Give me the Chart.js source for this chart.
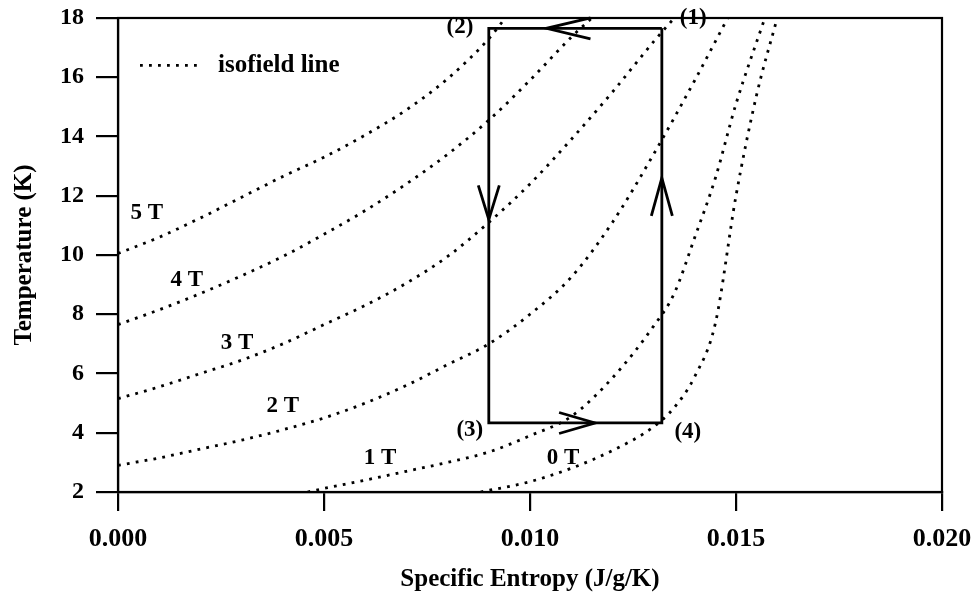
<!DOCTYPE html>
<html><head><meta charset="utf-8">
<script src="https://cdn.jsdelivr.net/npm/chart.js@4/dist/chart.umd.min.js"></script>
<style>html,body{margin:0;padding:0;background:#fff}</style>
</head><body>
<canvas id="c" width="980" height="601"></canvas>
<script>
// Isofield lines: specific entropy (J/g/K) vs temperature (K)
const s5T = [0, 0.001, 0.002, 0.003, 0.004, 0.005, 0.006, 0.007, 0.008, 0.009, 0.0094];
const t5T = [10.05, 10.6, 11.25, 11.95, 12.65, 13.3, 14.05, 14.9, 15.95, 17.3, 18.0];
const s4T = [0, 0.001, 0.002, 0.003, 0.004, 0.005, 0.006, 0.007, 0.008, 0.009, 0.010, 0.011, 0.0115];
const t4T = [7.65, 8.15, 8.7, 9.3, 9.95, 10.7, 11.5, 12.4, 13.4, 14.55, 15.9, 17.35, 18.0];
const s3T = [0, 0.001, 0.002, 0.003, 0.004, 0.005, 0.006, 0.007, 0.008, 0.009, 0.010, 0.011, 0.012, 0.013, 0.0135];
const t3T = [5.15, 5.55, 6.0, 6.45, 7.0, 7.65, 8.3, 9.05, 9.95, 11.1, 12.4, 13.9, 15.5, 17.2, 18.0];
const s2T = [0, 0.001, 0.002, 0.003, 0.004, 0.005, 0.006, 0.007, 0.008, 0.009, 0.010, 0.011, 0.012, 0.013, 0.014, 0.0148];
const t2T = [2.9, 3.15, 3.45, 3.75, 4.1, 4.5, 5.0, 5.6, 6.3, 7.0, 8.0, 9.25, 11.1, 13.4, 15.9, 18.0];
const s1T = [0.0046, 0.005, 0.006, 0.007, 0.008, 0.009, 0.010, 0.011, 0.012, 0.013, 0.0135, 0.014, 0.0145, 0.015, 0.0157];
const t1T = [2.0, 2.12, 2.4, 2.7, 3.0, 3.35, 3.9, 4.55, 5.85, 7.6, 8.7, 10.6, 12.6, 15.1, 18.0];
const s0T = [0.0088, 0.010, 0.011, 0.012, 0.013, 0.0135, 0.014, 0.0145, 0.015, 0.0155, 0.016];
const t0T = [2.0, 2.35, 2.8, 3.4, 4.2, 4.85, 5.9, 7.7, 12.0, 15.4, 18.0];

// Refrigeration cycle (1)->(2)->(3)->(4)->(1)
const cycleS = [0.0132, 0.0090, 0.0090, 0.0132, 0.0132];
const cycleT = [17.65, 17.65, 4.33, 4.33, 17.65];
const cycleNames = ['(1)', '(2)', '(3)', '(4)'];

// Axis ticks
const xTicks = [0, 0.005, 0.010, 0.015, 0.020];
const yTicks = [2, 4, 6, 8, 10, 12, 14, 16, 18];

const fieldLabels = ['5 T', '4 T', '3 T', '2 T', '1 T', '0 T'];
const curves = [[s5T, t5T], [s4T, t4T], [s3T, t3T], [s2T, t2T], [s1T, t1T], [s0T, t0T]];

// annotation anchors (data units)
const fieldLabelPos = [[0.0007, 11.4], [0.00167, 9.16], [0.00289, 7.03], [0.0040, 4.9], [0.00636, 3.15], [0.0108, 3.15]];
const cycleLabelPos = [[0.01396, 18.0], [0.0083, 17.68], [0.00854, 4.1], [0.01383, 4.03]];
const arrows = [
  {s: 0.01040, t: 17.65, dir: 'left', len: 44},
  {s: 0.0090, t: 11.2, dir: 'down', len: 34},
  {s: 0.01158, t: 4.33, dir: 'right', len: 36},
  {s: 0.0132, t: 12.6, dir: 'up', len: 38}
];

const FONT = "'Liberation Serif', 'DejaVu Serif', serif";

const datasets = curves.map((c, i) => ({
  label: fieldLabels[i],
  data: c[0].map((s, j) => ({x: s, y: c[1][j]})),
  borderColor: '#000',
  borderWidth: 2.8,
  borderDash: [2.8, 6.2],
  pointRadius: 0,
  cubicInterpolationMode: 'monotone',
  fill: false
}));
datasets.push({
  label: 'cycle',
  data: cycleS.map((s, j) => ({x: s, y: cycleT[j]})),
  borderColor: '#000',
  borderWidth: 2.8,
  pointRadius: 0,
  tension: 0,
  fill: false
});

const decor = {
  id: 'decor',
  afterDatasetsDraw(chart) {
    const ctx = chart.ctx, a = chart.chartArea;
    const xs = chart.scales.x, ys = chart.scales.y;
    ctx.save();
    ctx.strokeStyle = '#000';
    ctx.lineWidth = 2.2;
    ctx.strokeRect(a.left, a.top, a.right - a.left, a.bottom - a.top);
    // arrows
    ctx.lineWidth = 2.8;
    arrows.forEach(ar => {
      const px = xs.getPixelForValue(ar.s), py = ys.getPixelForValue(ar.t);
      let dx = 0, dy = 0;
      if (ar.dir === 'left') dx = 1; if (ar.dir === 'right') dx = -1;
      if (ar.dir === 'up') dy = 1; if (ar.dir === 'down') dy = -1;
      const w = 10.5;
      ctx.beginPath();
      ctx.moveTo(px + dx * ar.len + dy * w, py + dy * ar.len + dx * w);
      ctx.lineTo(px, py);
      ctx.lineTo(px + dx * ar.len - dy * w, py + dy * ar.len - dx * w);
      ctx.stroke();
    });
    // text labels
    ctx.fillStyle = '#000';
    ctx.textAlign = 'center';
    ctx.textBaseline = 'middle';
    ctx.font = 'bold 23px ' + FONT;
    fieldLabels.forEach((l, i) => {
      ctx.fillText(l, xs.getPixelForValue(fieldLabelPos[i][0]), ys.getPixelForValue(fieldLabelPos[i][1]));
    });
    cycleNames.forEach((l, i) => {
      ctx.fillText(l, xs.getPixelForValue(cycleLabelPos[i][0]), ys.getPixelForValue(cycleLabelPos[i][1]));
    });
    // legend
    const ly = ys.getPixelForValue(16.4);
    const lx = a.left + 22;
    ctx.setLineDash([2.8, 6.2]);
    ctx.beginPath();
    ctx.moveTo(lx, ly); ctx.lineTo(lx + 60, ly); ctx.stroke();
    ctx.setLineDash([]);
    ctx.textAlign = 'left';
    ctx.font = 'bold 25px ' + FONT;
    ctx.fillText('isofield line', lx + 78, ly);
    ctx.restore();
  }
};

new Chart(document.getElementById('c'), {
  type: 'line',
  data: {datasets},
  options: {
    responsive: false,
    animation: false,
    devicePixelRatio: 1,
    layout: {padding: {left: 0, right: 38, top: 18, bottom: 0}},
    plugins: {legend: {display: false}, tooltip: {enabled: false}},
    scales: {
      x: {
        type: 'linear', min: 0, max: 0.02,
        afterBuildTicks: s => { s.ticks = xTicks.map(v => ({value: v})); },
        ticks: {callback: v => v.toFixed(3), color: '#000', font: {family: FONT, size: 26, weight: 'bold'}, padding: 13, maxRotation: 0},
        grid: {drawOnChartArea: false, color: '#000', lineWidth: 2.2, tickLength: 19},
        border: {display: true, color: '#000', width: 2.2},
        title: {display: true, text: 'Specific Entropy (J/g/K)', color: '#000', font: {family: FONT, size: 25, weight: 'bold'}, padding: {top: 4, bottom: 6}},
        afterFit: s => { s.height = 109; s.paddingLeft = 0; s.paddingRight = 0; }
      },
      y: {
        type: 'linear', min: 2, max: 18,
        afterBuildTicks: s => { s.ticks = yTicks.map(v => ({value: v})); },
        ticks: {color: '#000', font: {family: FONT, size: 24, weight: 'bold'}, padding: 12},
        grid: {drawOnChartArea: false, color: '#000', lineWidth: 2.2, tickLength: 22},
        border: {display: true, color: '#000', width: 2.2},
        title: {display: true, text: 'Temperature (K)', color: '#000', font: {family: FONT, size: 25, weight: 'bold'}, padding: {top: 10, bottom: 4}},
        afterFit: s => { s.width = 118; s.paddingTop = 0; s.paddingBottom = 0; }
      }
    }
  },
  plugins: [decor]
});
</script>
</body></html>
